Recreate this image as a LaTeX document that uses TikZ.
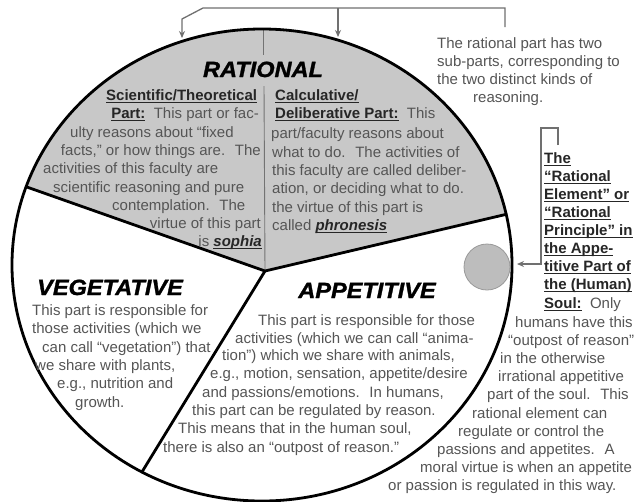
\documentclass[tikz,border=0pt]{standalone}
\usepackage{fontspec}
\setmainfont{Liberation Sans}
\newfontfamily\headfont[FakeBold=1.3]{Liberation Sans}
\usepackage{graphicx}
\usetikzlibrary{arrows.meta,calc}
\definecolor{bodygray}{HTML}{555555}
\definecolor{ratgray}{HTML}{C8C8C8}
\definecolor{linegray}{HTML}{707070}
\definecolor{dotgray}{HTML}{BDBDBD}
\newsavebox{\ulbox}
\newcommand{\uln}[1]{\sbox{\ulbox}{#1}\rlap{\rule[-2.6pt]{\wd\ulbox}{1.1pt}}\usebox{\ulbox}}
\newcommand{\lbl}[1]{\uln{\textbf{#1}}}
\newcommand{\lbi}[1]{\uln{\textbf{\textit{#1}}}}
\newcommand{\hd}[1]{\scalebox{1.07}[1]{#1}}
\begin{document}
\begin{tikzpicture}[x=1pt,y=-1pt,
  body/.style={anchor=base west, inner sep=0pt, text=bodygray, font=\fontsize{15}{18}\selectfont},
  bodyr/.style={body, anchor=base east},
  keyl/.style={body, text=black!85},
  head/.style={anchor=base, inner sep=0pt, text=black, font=\fontsize{22}{22}\selectfont\headfont\bfseries\itshape},
  outline/.style={line width=2.8pt, black},
  guide/.style={linegray, line width=1.3pt},
  tip/.style={-{Stealth[length=7pt,width=6pt]}},
  subline/.style={black!55, line width=0.9pt}]
\useasboundingbox (0,0) rectangle (639,501);
\fill[white] (0,0) rectangle (639,501);

% geometry
\coordinate (O) at (262,265);
\coordinate (C) at (265,271);
\coordinate (L) at ($(O)+(199.36:250 and 236)$);
\coordinate (R) at ($(O)+(347.6:250 and 236)$);
\coordinate (B) at ($(O)+(118.7:250 and 236)$);

% rational sector
\fill[ratgray] (C) -- (L) arc[start angle=199.36, end angle=347.6, x radius=250, y radius=236] -- cycle;
% thin sub-divider
\coordinate (sd0) at (263,29);
\coordinate (sd1) at (263,55);
\coordinate (sd2) at (264,86);
\draw[subline] (sd0) -- (sd1);
\draw[subline] (sd2) -- (C);

% small grey circle
\node[circle, fill=dotgray, draw=black!40, line width=0.8pt, minimum size=46pt, inner sep=0pt] (gc) at (487,267) {};

% outline and dividers
\draw[outline] (O) ellipse[x radius=250, y radius=236];
\draw[outline, line cap=round] (L) -- (C) -- (R);
\draw[outline, line cap=round] (C) -- (B);

% top bracket arrows
\coordinate (tr) at (505,27);
\coordinate (tr0) at (505,8);
\coordinate (tl0) at (203,8);
\coordinate (tl1) at (182,19);
\coordinate (arrL) at (182,38);
\coordinate (tm0) at (338,8);
\coordinate (arrM) at (338,37);
\draw[guide, tip] (tr) -- (tr0) -- (tl0) -- (tl1) -- (arrL);
\draw[guide, tip] (tm0) -- (arrM);

% right bracket arrow
\coordinate (kc1) at (558,145);
\coordinate (kc2) at (558,128);
\coordinate (kc3) at (541,128);
\coordinate (kb) at (541,264);
\coordinate (ptr) at (517,264);
\draw[guide, tip] (kc1) -- (kc2) -- (kc3) -- (kb) -- (ptr);

% headings
\node[head] (hrat) at (263,77) {\hd{RATIONAL}};
\node[head] (hveg) at (110,295) {\hd{VEGETATIVE}};
\node[head] (happ) at (367,298) {\hd{APPETITIVE}};

% top right text
\node[body] (t1) at (437,48) {The rational part has two};
\node[body] (t2) at (437,66) {sub-parts, corresponding to};
\node[body] (t3) at (437,84) {the two distinct kinds of};
\node[body] (t4) at (473,102) {reasoning.};

% scientific / theoretical part
\node[keyl] (s1) at (106,100) {\lbl{Scientific/Theoretical}};
\node[bodyr] (s2) at (259,118) {\textcolor{black!85}{\lbl{Part:}}~ This part or fac-};
\node[body] (s3) at (70,137) {ulty reasons about “fixed};
\node[bodyr] (s4) at (261,155) {facts,” or how things are.~ The};
\node[body] (s5) at (43,173) {activities of this faculty are};
\node[body] (s6) at (53,192) {scientific reasoning and pure};
\node[body] (s7) at (112,210) {contemplation.~ The};
\node[bodyr] (s8) at (261,228) {virtue of this part};
\node[bodyr] (s9) at (262,246) {is \textcolor{black!85}{\lbi{sophia}}};

% calculative / deliberative part
\node[keyl] (c1) at (275,100) {\lbl{Calculative/}};
\node[body] (c2) at (275,118) {\textcolor{black!85}{\lbl{Deliberative Part:}}~ This};
\node[body] (c3) at (271,138) {part/faculty reasons about};
\node[body] (c4) at (272,157) {what to do.~ The activities of};
\node[body] (c5) at (272,175) {this faculty are called deliber-};
\node[body] (c6) at (272,193) {ation, or deciding what to do.};
\node[body] (c7) at (272,212) {the virtue of this part is};
\node[body] (c8) at (272,230) {called \textcolor{black!85}{\lbi{phronesis}}};

% vegetative
\node[body] (v1) at (32,315) {This part is responsible for};
\node[body] (v2) at (32,333) {those activities (which we};
\node[body] (v3) at (42,352) {can call “vegetation”) that};
\node[body] (v4) at (35,370) {we share with plants,};
\node[body] (v5) at (57,388) {e.g., nutrition and};
\node[body] (v6) at (75,407) {growth.};

% appetitive
\node[body] (a1) at (258,325) {This part is responsible for those};
\node[body] (a2) at (235,343) {activities (which we can call “anima-};
\node[body] (a3) at (222,360) {tion”) which we share with animals,};
\node[body] (a4) at (210,378) {e.g., motion, sensation, appetite/desire};
\node[body] (a5) at (202,397) {and passions/emotions.~ In humans,};
\node[body] (a6) at (192,415) {this part can be regulated by reason.};
\node[body] (a7) at (178,433) {This means that in the human soul,};
\node[body] (a8) at (163,452) {there is also an “outpost of reason.”};

% rational element key
\node[keyl] (r1) at (544,163) {\lbl{The}};
\node[keyl] (r2) at (544,181) {\lbl{“Rational}};
\node[keyl] (r3) at (544,199) {\lbl{Element” or}};
\node[keyl] (r4) at (544,217) {\lbl{“Rational}};
\node[keyl] (r5) at (544,235) {\lbl{Principle” in}};
\node[keyl] (r6) at (544,253) {\lbl{the Appe-}};
\node[keyl] (r7) at (544,271) {\lbl{titive Part of}};
\node[keyl] (r8) at (544,289) {\lbl{the (Human)}};
\node[body] (r9) at (544,308) {\textcolor{black!85}{\lbl{Soul:}}~ Only};

\node[body] (p1) at (515,327) {humans have this};
\node[body] (p2) at (508,345) {“outpost of reason”};
\node[body] (p3) at (500,363) {in the otherwise};
\node[body] (p4) at (498,381) {irrational appetitive};
\node[body] (p5) at (487,399) {part of the soul.~ This};
\node[body] (p6) at (472,418) {rational element can};
\node[body] (p7) at (458,436) {regulate or control the};
\node[body] (p8) at (437,454) {passions and appetites.~ A};
\node[body] (p9) at (420,472) {moral virtue is when an appetite};
\node[body] (p10) at (388,490) {or passion is regulated in this way.};
\end{tikzpicture}
\end{document}
